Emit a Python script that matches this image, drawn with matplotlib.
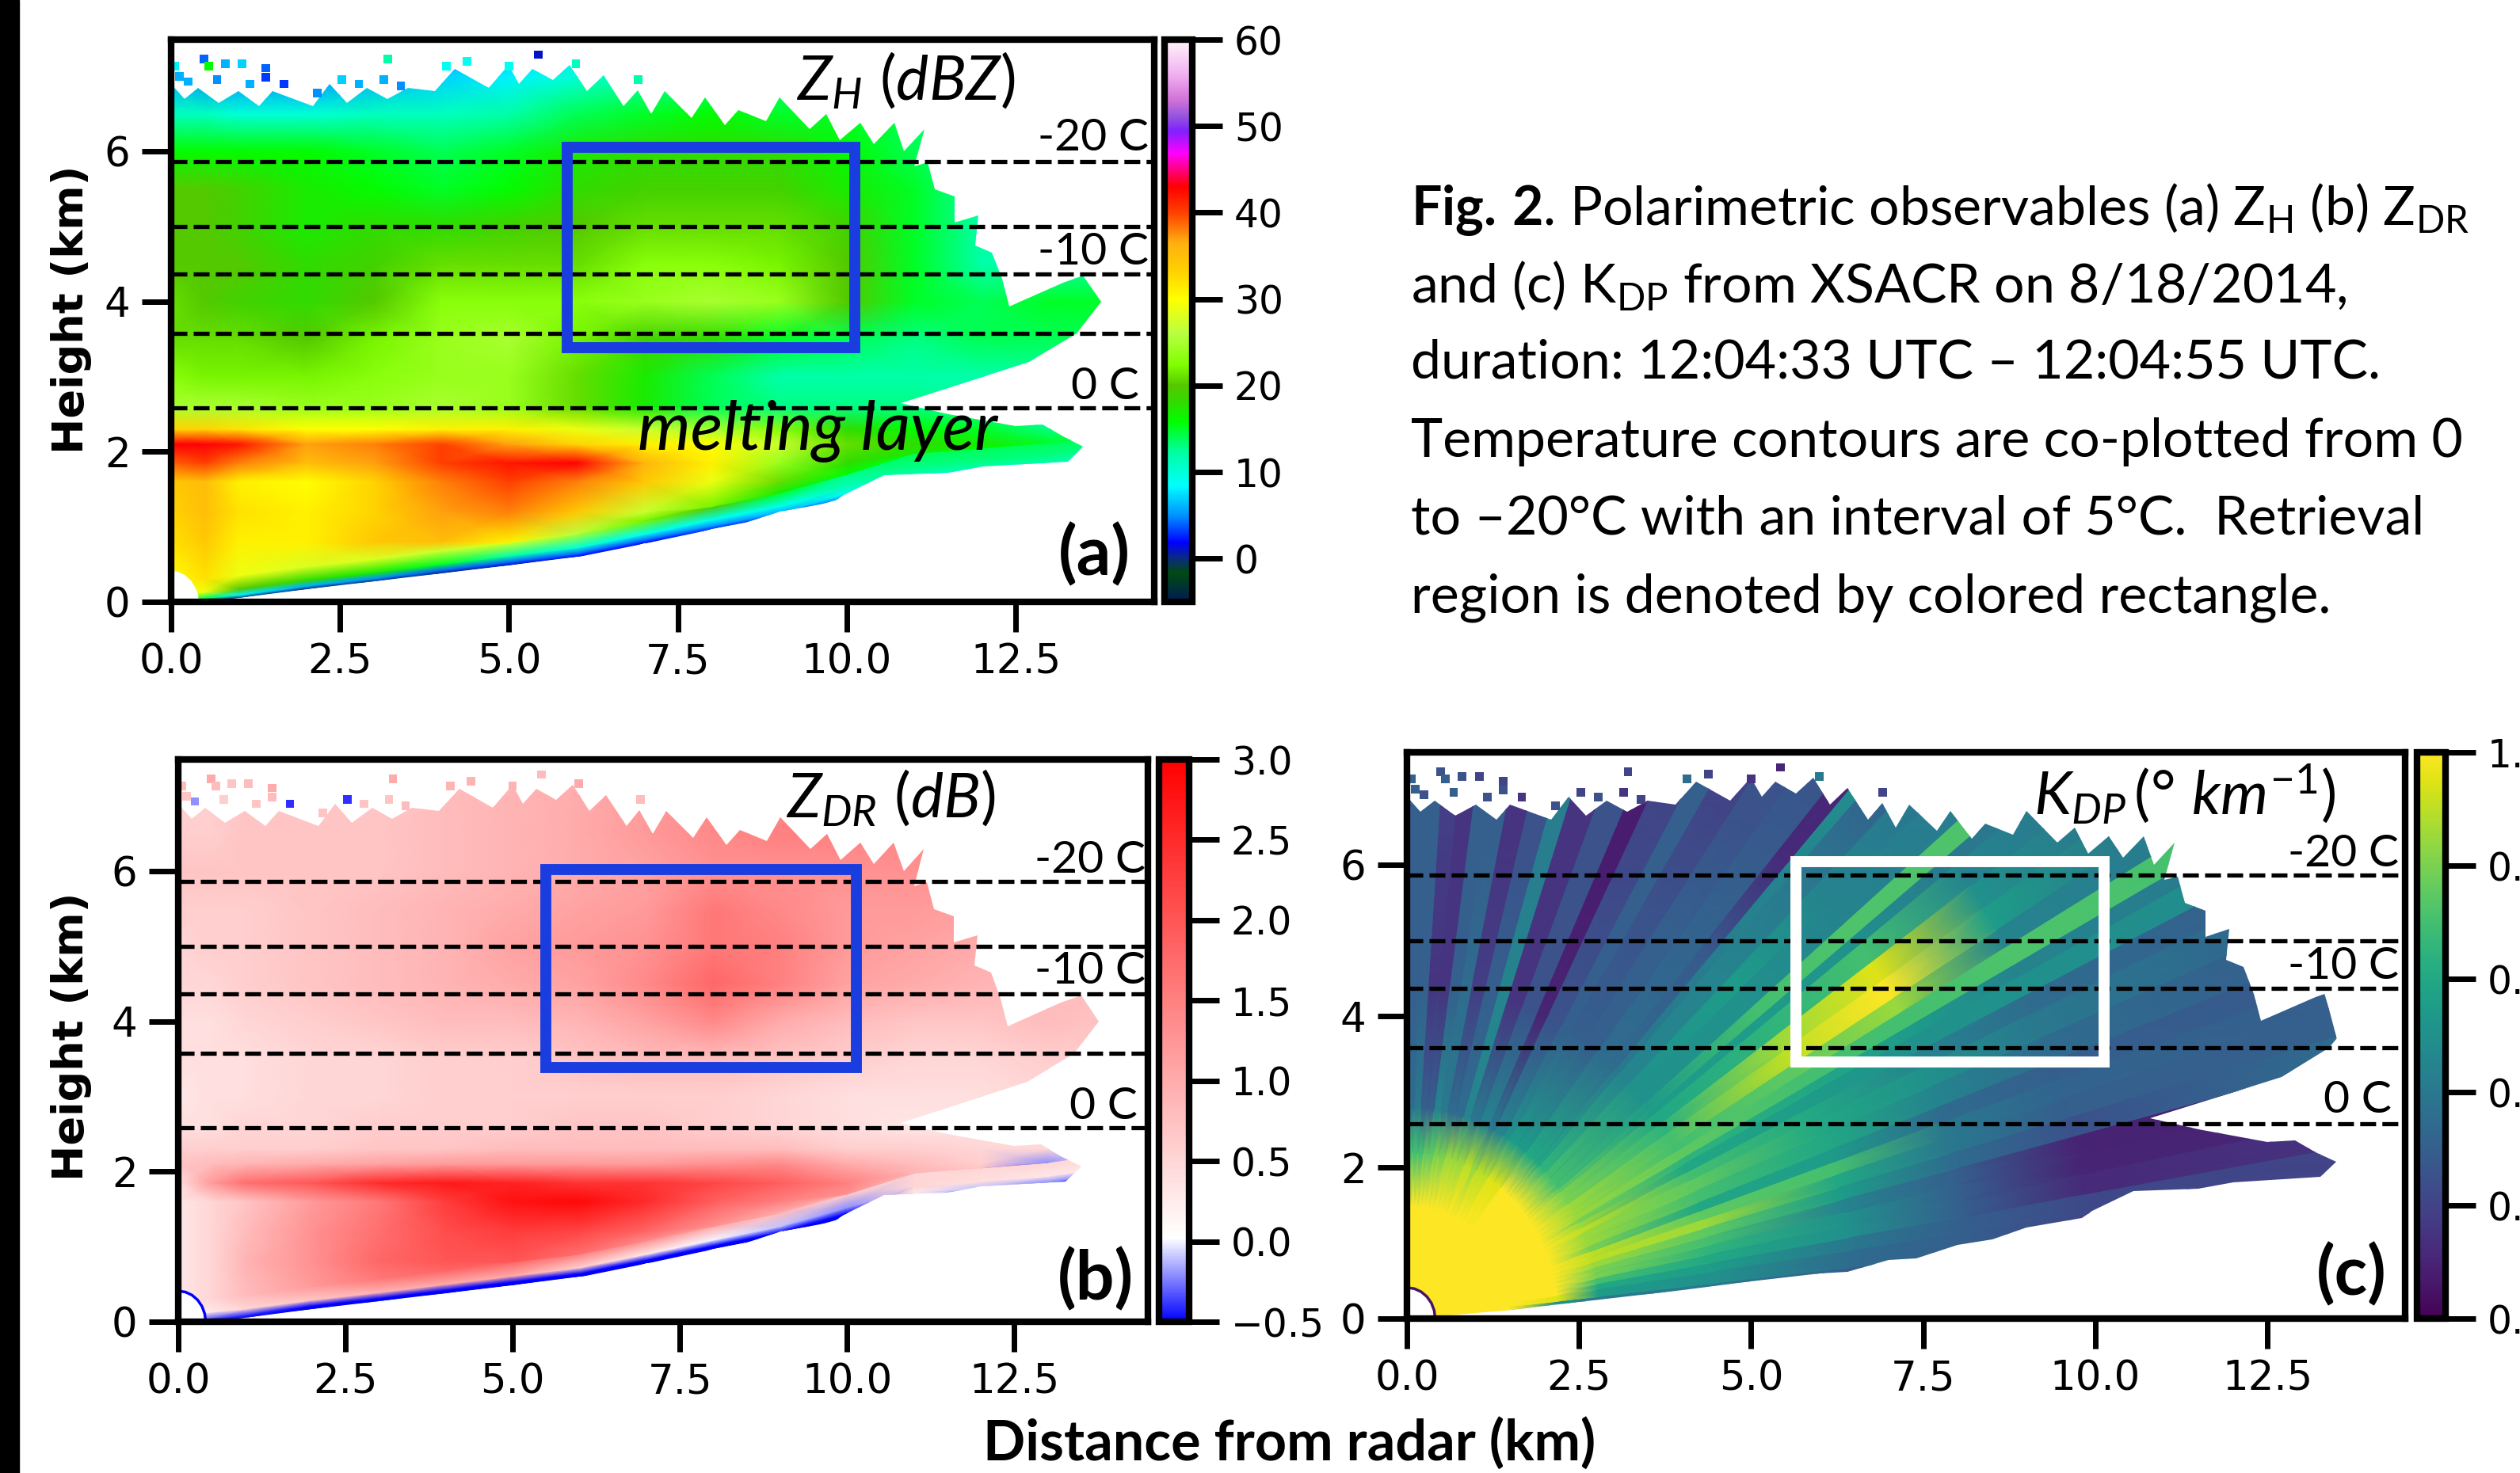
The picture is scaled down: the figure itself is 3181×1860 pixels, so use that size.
import numpy as np
import matplotlib
matplotlib.use('Agg')
import matplotlib.pyplot as plt
from matplotlib.colors import LinearSegmentedColormap, Normalize
from matplotlib.patches import Polygon, Rectangle

W = 3181
H = 1860

# mesh nodes for the reflectivity and zdr fields (km)
x_nodes = [0, 0.5, 1, 2, 3, 4, 5, 6, 7, 8, 9, 10, 11, 12, 13, 14]
low_edge = [0, 0.01, 0.05, 0.17, 0.27, 0.38, 0.49, 0.6, 0.78, 0.97, 1.15, 1.4, 1.68, 1.75, 1.82, 1.95]
edge_offsets = [0, 0.04, 0.12, 0.3]
y_nodes = [0.8, 1.2, 1.6, 1.85, 2.1, 2.3, 2.6, 3, 3.5, 4, 4.5, 5, 5.5, 6, 6.5, 7, 7.4]

zh_values = [
    [30, 0, 0, 0, 0, 0, 1, 2, 2, 3, 3, 6, 11, 11, 11, 11],
    [30, 14, 8, 6, 5, 4, 4, 4, 4, 5, 6, 9, 12, 12, 12, 12],
    [30, 29, 20, 18, 17, 15, 12, 10, 9, 9, 9, 11, 13, 13, 13, 13],
    [30, 32, 29, 28, 28, 27, 28, 25, 22, 20, 15, 13, 14, 14, 14, 14],
    [32, 34, 31, 31, 34, 35, 31, 26, 22, 20, 16, 14, 14, 14, 14, 14],
    [33, 35, 32, 31, 33, 37, 38, 34, 27, 22, 17, 15, 14, 14, 14, 14],
    [34, 35, 31, 30, 33, 38, 40, 38, 34, 29, 21, 16, 15, 15, 15, 15],
    [39, 40, 38, 35, 37, 40, 42, 43, 36, 31, 24, 18, 17, 16, 15, 15],
    [43, 43, 42, 37, 38, 40, 37, 33, 31, 30, 27, 21, 18, 17, 15, 14],
    [33, 33, 32, 30, 30, 31, 31, 29, 27, 25, 23, 18, 16, 15, 13, 13],
    [25, 25, 25, 24, 24, 25, 24, 21, 17, 14, 13, 13, 13, 12, 12, 12],
    [23, 22, 22, 22, 23, 24, 24, 21, 17, 14, 12, 12, 12, 12, 12, 12],
    [21, 21, 21, 20, 22, 24, 25, 22, 19, 18, 15, 14, 13, 14, 14, 14],
    [21, 20, 19, 18, 20, 23, 23, 23, 24, 25, 24, 20, 15, 14, 15, 15],
    [20, 20, 20, 18, 19, 21, 21, 21, 23, 23, 22, 20, 15, 12, 12, 12],
    [20, 20, 19, 17, 18, 18, 19, 20, 21, 21, 21, 19, 15, 12, 12, 12],
    [20, 20, 19, 17, 16, 15, 16, 18, 19, 19, 19, 17, 15, 12, 12, 12],
    [16, 16, 16, 16, 15, 14, 15, 17, 18, 18, 18, 16, 14, 12, 12, 12],
    [11, 11, 10, 10, 11, 11, 12, 14, 15, 16, 15, 15, 14, 12, 12, 12],
    [6, 5, 5, 5, 6, 7, 8, 10, 12, 13, 13, 13, 12, 12, 12, 12],
    [4, 4, 4, 4, 5, 5, 6, 8, 10, 11, 11, 11, 11, 11, 11, 11],
]

zdr_values = [
    [0, -0.5, -0.5, -0.5, -0.5, -0.5, -0.5, -0.5, -0.5, -0.5, -0.5, -0.5, 0, -0.3, -0.4, -0.4],
    [0, -0.3, -0.4, -0.5, -0.5, -0.5, -0.5, -0.5, -0.5, -0.5, -0.5, -0.5, 0.3, -0.1, -0.2, -0.2],
    [0.2, 0.3, 0.5, 0.7, 0.9, 1.0, 1.0, 0.6, 0.3, 0, -0.1, -0.2, 0.5, 0.4, 0.3, 0.3],
    [0.3, 0.5, 0.8, 1.2, 1.6, 1.8, 1.8, 1.5, 1.3, 1.0, 0.8, 0.6, 0.5, 0.5, 0.5, 0.5],
    [0.3, 0.5, 0.9, 1.3, 1.8, 2.0, 2.0, 1.7, 1.4, 1.1, 0.9, 0.8, 0.7, 0.6, 0.6, 0.6],
    [0.3, 0.5, 0.8, 1.3, 1.7, 2.1, 2.3, 2.2, 1.8, 1.3, 1.0, 0.9, 0.7, 0.7, 0.6, 0.6],
    [0.3, 0.5, 0.7, 1.2, 1.6, 2.3, 2.8, 2.9, 2.5, 1.9, 1.5, 1.3, 0.8, 0.7, 0.6, 0.6],
    [0.4, 1.2, 1.7, 2.0, 2.5, 2.7, 2.6, 2.4, 2.4, 2.2, 1.9, 1.5, 0.9, 0.7, -0.3, 0.4],
    [0.7, 0.8, 0.9, 1.0, 1.1, 1.2, 1.2, 1.2, 1.2, 1.3, 1.4, 1.0, 0.8, 0.6, -0.2, 0.2],
    [0.6, 0.6, 0.6, 0.6, 0.7, 0.7, 0.8, 0.8, 0.8, 0.8, 0.8, 0.6, 0.6, 0.5, 0.5, 0.5],
    [0.4, 0.4, 0.5, 0.5, 0.6, 0.6, 0.6, 0.7, 0.7, 0.6, 0.5, 0.4, 0.3, 0.4, 0.4, 0.4],
    [0.3, 0.4, 0.4, 0.5, 0.5, 0.6, 0.6, 0.6, 0.6, 0.6, 0.5, 0.4, 0.4, 0.4, 0.5, 0.5],
    [0.4, 0.4, 0.4, 0.5, 0.5, 0.6, 0.6, 0.7, 0.8, 0.8, 0.7, 0.6, 0.5, 0.5, 0.6, 0.6],
    [0.4, 0.4, 0.5, 0.6, 0.7, 0.8, 0.8, 0.9, 1.1, 1.4, 1.0, 0.8, 0.7, 0.7, 0.8, 0.7],
    [0.5, 0.5, 0.6, 0.7, 0.8, 0.9, 1.0, 1.1, 1.4, 1.8, 1.5, 1.1, 1.0, 0.9, 0.8, 0.8],
    [0.5, 0.6, 0.6, 0.7, 0.8, 0.9, 1.1, 1.2, 1.3, 1.6, 1.5, 1.2, 1.1, 1.0, 0.9, 0.9],
    [0.6, 0.6, 0.6, 0.7, 0.8, 0.9, 1.0, 1.1, 1.2, 1.6, 1.4, 1.2, 1.2, 1.1, 1.0, 1.0],
    [0.7, 0.7, 0.7, 0.7, 0.7, 0.8, 0.9, 1.0, 1.1, 1.3, 1.3, 1.3, 1.3, 1.3, 1.0, 1.0],
    [0.6, 0.6, 0.7, 0.7, 0.7, 0.8, 0.9, 1.0, 1.2, 1.4, 1.5, 1.5, 1.4, 1.3, 1.0, 1.0],
    [0.6, 0.6, 0.7, 0.7, 0.7, 0.8, 0.9, 1.0, 1.2, 1.4, 1.4, 1.4, 1.4, 1.2, 1.0, 1.0],
    [0.5, 0.5, 0.6, 0.6, 0.6, 0.7, 0.8, 0.9, 1.1, 1.3, 1.3, 1.3, 1.3, 1.1, 1.0, 1.0],
]

# kdp is drawn ray by ray: elevation edges in degrees and range nodes in km
ray_edges = [4.5, 6, 8, 9.5, 11, 12.5, 14, 15.5, 17, 18.5, 20, 22, 24, 25.5, 27, 28, 29.5, 31, 33, 35, 37, 38,
             39.5, 42, 44, 46.5, 47.5, 49, 52, 55, 58, 60, 63, 65, 68, 71, 73, 75.5, 78, 80, 82, 84, 86, 88, 90]
range_nodes = [0.4, 1.5, 2.2, 2.8, 4.5, 6.5, 8.2, 10, 14]
kdp_values = [
    [1, 1, 0.5, 0.4, 0.4, 0.3, 0.3, 0.25, 0.25],
    [1, 1, 0.95, 0.55, 0.5, 0.35, 0.3, 0.2, 0.2],
    [1, 1, 1, 0.6, 0.55, 0.4, 0.3, 0.22, 0.2],
    [1, 1, 1, 0.7, 0.6, 0.5, 0.3, 0.12, 0.15],
    [1, 1, 1, 0.8, 0.65, 0.5, 0.3, 0.1, 0.1],
    [1, 1, 1, 0.8, 0.7, 0.45, 0.3, 0.1, 0.08],
    [1, 1, 1, 0.85, 0.75, 0.55, 0.35, 0.25, 0.35],
    [1, 1, 1, 0.9, 0.85, 0.6, 0.4, 0.3, 0.3],
    [1, 1, 1, 0.9, 0.75, 0.7, 0.4, 0.32, 0.3],
    [1, 1, 1, 0.8, 0.6, 0.55, 0.35, 0.3, 0.28],
    [1, 1, 1, 0.85, 0.7, 0.6, 0.45, 0.35, 0.3],
    [1, 1, 1, 0.85, 0.75, 0.6, 0.5, 0.4, 0.32],
    [1, 1, 1, 0.9, 0.7, 0.6, 0.45, 0.35, 0.3],
    [1, 1, 1, 0.85, 0.6, 0.55, 0.5, 0.5, 0.48],
    [1, 1, 1, 0.8, 0.65, 0.6, 0.55, 0.45, 0.4],
    [1, 1, 1, 0.85, 0.75, 0.7, 0.7, 0.72, 0.7],
    [1, 1, 1, 0.85, 0.7, 0.75, 0.85, 0.45, 0.4],
    [1, 1, 1, 0.85, 0.7, 0.9, 1.0, 0.55, 0.3],
    [1, 1, 1, 0.8, 0.65, 0.85, 0.95, 0.5, 0.3],
    [1, 1, 1, 0.8, 0.6, 0.65, 0.7, 0.45, 0.35],
    [1, 1, 1, 0.75, 0.55, 0.55, 0.5, 0.4, 0.38],
    [1, 1, 1, 0.7, 0.55, 0.7, 0.72, 0.72, 0.72],
    [1, 1, 1, 0.7, 0.5, 0.5, 0.45, 0.42, 0.4],
    [1, 1, 1, 0.7, 0.5, 0.55, 0.45, 0.4, 0.35],
    [1, 1, 1, 0.65, 0.45, 0.45, 0.4, 0.3, 0.28],
    [1, 1, 1, 0.6, 0.4, 0.42, 0.45, 0.5, 0.5],
    [1, 1, 1, 0.6, 0.35, 0.28, 0.12, 0.1, 0.1],
    [1, 1, 1, 0.6, 0.35, 0.32, 0.28, 0.25, 0.25],
    [1, 1, 0.95, 0.55, 0.3, 0.3, 0.25, 0.25, 0.25],
    [1, 1, 0.95, 0.55, 0.3, 0.25, 0.2, 0.2, 0.2],
    [1, 1, 0.9, 0.5, 0.3, 0.3, 0.3, 0.3, 0.3],
    [1, 1, 0.9, 0.45, 0.25, 0.22, 0.2, 0.2, 0.2],
    [1, 1, 0.85, 0.4, 0.1, 0.08, 0.08, 0.08, 0.08],
    [1, 1, 0.9, 0.45, 0.25, 0.25, 0.25, 0.25, 0.25],
    [1, 1, 0.85, 0.4, 0.15, 0.15, 0.15, 0.15, 0.15],
    [1, 1, 0.85, 0.45, 0.45, 0.42, 0.42, 0.42, 0.42],
    [1, 1, 0.85, 0.35, 0.3, 0.25, 0.25, 0.25, 0.25],
    [1, 1, 0.8, 0.35, 0.18, 0.15, 0.15, 0.15, 0.15],
    [1, 1, 0.8, 0.4, 0.35, 0.3, 0.3, 0.3, 0.3],
    [1, 1, 0.75, 0.45, 0.3, 0.3, 0.3, 0.3, 0.3],
    [1, 1, 0.75, 0.3, 0.15, 0.15, 0.15, 0.15, 0.15],
    [1, 1, 0.7, 0.3, 0.15, 0.18, 0.18, 0.18, 0.18],
    [1, 1, 0.7, 0.4, 0.3, 0.3, 0.3, 0.3, 0.3],
    [1, 1, 0.7, 0.35, 0.3, 0.3, 0.3, 0.3, 0.3],
]

# edge of the echo
outline_x = [0.4, 1, 2, 3, 4, 5, 6, 6.4, 7, 7.4, 8, 8.5, 9, 9.8, 9.95, 10.55, 11.5, 12, 13.27, 13.5, 13.2, 12.9, 12.5,
             11.5, 10.8, 11.5, 12.7, 13.4, 13.77, 13.5, 13.2, 12.4, 12.3, 12.15, 11.9, 11.95, 11.6, 11.6, 11.3, 11.2,
             11.0, 11.15, 10.85, 10.7, 10.4, 10.2, 9.9, 9.7, 9.45, 9.0, 8.8, 8.4, 8.2, 7.9, 7.7, 7.3, 7.1, 6.9, 6.7,
             6.4, 6.15, 5.9, 5.65, 5.35, 5.15, 5.0, 4.7, 4.2, 3.9, 3.5, 3.2, 2.9, 2.6, 2.35, 2.1, 1.5, 1.3, 1.0, 0.7,
             0.4, 0.2, 0]
outline_y = [0, 0.05, 0.17, 0.27, 0.38, 0.49, 0.6, 0.62, 0.78, 0.8, 0.97, 1.05, 1.2, 1.33, 1.42, 1.69, 1.72, 1.8, 1.87,
             2.07, 2.2, 2.36, 2.34, 2.5, 2.65, 2.85, 3.2, 3.58, 4.0, 4.35, 4.25, 3.94, 4.3, 4.65, 4.75, 5.15, 5.05,
             5.4, 5.5, 5.85, 5.8, 6.3, 6.0, 6.38, 6.1, 6.38, 6.15, 6.5, 6.3, 6.72, 6.4, 6.55, 6.35, 6.72, 6.45, 6.8,
             6.5, 6.82, 6.6, 7.02, 6.8, 7.15, 6.95, 7.1, 6.9, 7.15, 6.85, 7.1, 6.8, 6.85, 6.7, 6.85, 6.65, 6.9, 6.6,
             6.8, 6.6, 6.8, 6.65, 6.85, 6.7, 6.9]
inner_radius = 0.41

# isolated gates above the solid echo
speck_x = [0.49, 0.56, 0.8, 1.05, 1.4, 1.4, 1.67, 1.17, 0.68, 0.25, 0.06, 0.12, 2.16, 2.53, 2.78, 3.21, 3.15, 3.4, 4.07,
           4.38, 5.0, 5.43, 5.99, 6.91]
speck_y = [7.23, 7.14, 7.17, 7.17, 7.11, 6.99, 6.9, 6.9, 6.96, 6.93, 7.14, 7.0, 6.78, 6.96, 6.9, 7.23, 6.96, 6.87, 7.14,
           7.2, 7.14, 7.29, 7.17, 6.96]
speck_zh = [4, 16, 6, 7, 4, 3, 3, 6, 5, 6, 8, 6, 5, 7, 6, 12, 6, 5, 9, 9, 9, 1, 11, 12]
speck_zdr = [1.0, 0.8, 0.7, 0.8, 1.0, 0.8, -0.4, 0.7, 0.6, -0.2, 0.8, 0.7, 0.7, -0.4, 0.7, 1.0, 0.7, 0.8, 0.9, 0.9, 0.9,
             0.8, 1.0, 0.8]
speck_kdp = [0.25, 0.3, 0.25, 0.2, 0.2, 0.25, 0.15, 0.25, 0.3, 0.25, 0.3, 0.3, 0.25, 0.2, 0.25, 0.2, 0.15, 0.2, 0.35,
             0.2, 0.15, 0.1, 0.4, 0.2]

temp_heights = [5.87, 5.0, 4.37, 3.58, 2.58]
temp_labels = ['-20 C', '-10 C', '0 C']

x_ticks = [0, 2.5, 5, 7.5, 10, 12.5]
x_labels = ['0.0', '2.5', '5.0', '7.5', '10.0', '12.5']
y_ticks = [0, 2, 4, 6]

zh_ticks = [0, 10, 20, 30, 40, 50, 60]
zdr_ticks = [-0.5, 0, 0.5, 1, 1.5, 2, 2.5, 3]
kdp_ticks = [0, 0.2, 0.4, 0.6, 0.8, 1.0]

# retrieval boxes (x0, x1, y0, y1) in km
box_a = [5.86, 10.12, 3.39, 6.06]
box_b = [5.5, 10.14, 3.39, 6.02]
box_c = [5.65, 10.13, 3.39, 6.04]

caption_lines = [
    r'$\mathbf{Fig.\,2}$. Polarimetric observables (a) Z$_{\mathrm{H}}$ (b) Z$_{\mathrm{DR}}$',
    r'and (c) K$_{\mathrm{DP}}$ from XSACR on 8/18/2014,',
    'duration: 12:04:33 UTC – 12:04:55 UTC.',
    'Temperature contours are co-plotted from 0',
    'to –20°C with an interval of 5°C.  Retrieval',
    'region is denoted by colored rectangle.',
]
caption_y = [264, 361, 458, 558, 655, 755]

zh_stops = [(-5, '#001a55'), (-1.7, '#004a10'), (0, '#0a2a80'), (1.8, '#0000ff'), (4.9, '#0090ff'), (8.4, '#00ffff'),
            (12.3, '#00ffa0'), (15.8, '#00ff00'), (18, '#30dc00'), (20, '#55c800'), (22.4, '#80ff00'), (26, '#b8ff40'),
            (30, '#ffff00'), (33.3, '#ffd000'), (36.5, '#ffb010'), (40, '#ff4000'), (43, '#ff0000'), (45, '#ff0080'),
            (46.9, '#ff00ff'), (49.5, '#8020ff'), (51, '#9050e0'), (53, '#d070d8'), (56, '#f0b0f0'), (60, '#fff4fb')]
zdr_stops = [(-0.5, '#0000ff'), (0.02, '#ffffff'), (3, '#ff0000')]

plt.rcParams['font.family'] = 'DejaVu Sans'
plt.rcParams['mathtext.fontset'] = 'custom'
plt.rcParams['mathtext.rm'] = 'Lato'
plt.rcParams['mathtext.it'] = 'Lato:italic'
plt.rcParams['mathtext.bf'] = 'Lato:bold'


def make_cmap(stops):
    lo = stops[0][0]
    hi = stops[-1][0]
    return LinearSegmentedColormap.from_list('c', [((v - lo) / (hi - lo), c) for v, c in stops], N=512)


def new_axes(fig, left, right, top, bottom):
    return fig.add_axes([left / W, 1 - bottom / H, (right - left) / W, (bottom - top) / H])


def style_axes(ax, xmax):
    ax.set_xlim(0, xmax)
    ax.set_ylim(0, 7.49)
    ax.set_xticks(x_ticks)
    ax.set_xticklabels(x_labels)
    ax.set_yticks(y_ticks)
    ax.tick_params(length=27, width=5, labelsize=37, pad=10)
    for s in ax.spines.values():
        s.set_linewidth(6)
    for y in temp_heights:
        ax.plot([0, xmax], [y, y], color='k', lw=3.8, ls=(0, (3.8, 1.5)), zorder=4)


def echo_clip(ax):
    t = np.radians([0, 15, 30, 45, 60, 75, 90])
    arc_x = inner_radius * np.sin(t)
    arc_y = inner_radius * np.cos(t)
    xy = np.column_stack([np.r_[arc_x, outline_x], np.r_[arc_y, outline_y]])
    return Polygon(xy, closed=True, transform=ax.transData)


def draw_cartesian(ax, values, cmap, norm):
    X = np.tile(np.array(x_nodes, float), (len(edge_offsets) + len(y_nodes), 1))
    low = np.array(low_edge)
    rows = [low + d for d in edge_offsets]
    for y in y_nodes:
        rows.append(np.maximum(y, low + edge_offsets[-1]))
    Y = np.array(rows)
    m = ax.pcolormesh(X, Y, np.array(values, float), cmap=cmap, norm=norm, shading='gouraud', zorder=1)
    m.set_clip_path(echo_clip(ax))
    return m


def draw_rays(ax, cmap, norm):
    # doubled edges keep each ray flat across its width
    edges = np.radians(np.repeat(ray_edges, 2)[1:-1])
    r = np.array(range_nodes)
    A, R = np.meshgrid(edges, r, indexing='ij')
    C = np.repeat(np.array(kdp_values, float), 2, axis=0)
    m = ax.pcolormesh(R * np.cos(A), R * np.sin(A), C, cmap=cmap, norm=norm, shading='gouraud', zorder=1)
    m.set_clip_path(echo_clip(ax))
    return m


def specks(ax, values, cmap, norm):
    ax.scatter(speck_x, speck_y, c=values, cmap=cmap, norm=norm, marker='s', s=60, linewidths=0, zorder=2)


def colorbar(fig, mesh, left, right, top, bottom, ticks):
    cax = new_axes(fig, left, right, top, bottom)
    cb = fig.colorbar(mesh, cax=cax, ticks=ticks)
    cb.outline.set_linewidth(6)
    cax.tick_params(length=27, width=5, labelsize=35, pad=11)
    return cb


def arc(ax, color):
    t = np.radians([0, 15, 30, 45, 60, 75, 90])
    ax.plot(inner_radius * np.sin(t), inner_radius * np.cos(t), color=color, lw=2.5, zorder=2)


def box(ax, b, color, lw):
    ax.add_patch(Rectangle((b[0], b[2]), b[1] - b[0], b[3] - b[2], fill=False, ec=color, lw=lw, zorder=5,
                           joinstyle='miter'))


def px_text(fig, x, y, s, **kw):
    kw.setdefault('family', 'Lato')
    kw.setdefault('va', 'center')
    fig.text(x / W, 1 - y / H, s, **kw)


fig = plt.figure(figsize=(W / 100, H / 100), dpi=100)
fig.add_artist(Rectangle((0, 0), 24 / W, 1, transform=fig.transFigure, color='k'))

ax_a = new_axes(fig, 216, 1457, 50, 760)
ax_b = new_axes(fig, 225, 1449, 959, 1669)
ax_c = new_axes(fig, 1776, 3036, 950, 1665)

zh_cmap = make_cmap(zh_stops)
zh_norm = Normalize(-5, 60)
zdr_cmap = make_cmap(zdr_stops)
zdr_norm = Normalize(-0.5, 3)
kdp_cmap = plt.get_cmap('viridis')
kdp_norm = Normalize(0, 1)

mesh_a = draw_cartesian(ax_a, zh_values, zh_cmap, zh_norm)
mesh_b = draw_cartesian(ax_b, zdr_values, zdr_cmap, zdr_norm)
mesh_c = draw_rays(ax_c, kdp_cmap, kdp_norm)
specks(ax_a, speck_zh, zh_cmap, zh_norm)
specks(ax_b, speck_zdr, zdr_cmap, zdr_norm)
specks(ax_c, speck_kdp, kdp_cmap, kdp_norm)
arc(ax_b, '#0000ff')
arc(ax_c, kdp_cmap(0.05))

style_axes(ax_a, 14.55)
style_axes(ax_b, 14.5)
style_axes(ax_c, 14.5)

colorbar(fig, mesh_a, 1470, 1505, 50, 760, zh_ticks)
colorbar(fig, mesh_b, 1463, 1501, 959, 1669, zdr_ticks)
colorbar(fig, mesh_c, 3051, 3087, 950, 1665, kdp_ticks)

box(ax_a, box_a, '#1a3de0', 10)
box(ax_b, box_b, '#1a3de0', 10)
box(ax_c, box_c, 'white', 10)

fig.text(90 / W, 1 - 391 / H, 'Height (km)', rotation=90, ha='center', va='center', fontsize=39, fontweight='bold')
fig.text(90 / W, 1 - 1309 / H, 'Height (km)', rotation=90, ha='center', va='center', fontsize=39, fontweight='bold')
px_text(fig, 1241, 1822, 'Distance from radar (km)', fontsize=50.5, fontweight='bold')

px_text(fig, 1005, 126, r'$Z_H\ (dBZ)$', fontsize=56, va='baseline')
px_text(fig, 992, 1032, r'$Z_{DR}\ (dB)$', fontsize=56, va='baseline')
px_text(fig, 2567, 1028, r'$K_{DP}\,(°\ km^{-1})$', fontsize=55, va='baseline')

for x, ys in [(1310, (174, 318)), (1306, (1087, 1227)), (2888, (1078, 1220))]:
    px_text(fig, x, ys[0], temp_labels[0], fontsize=41)
    px_text(fig, x, ys[1], temp_labels[1], fontsize=41)
px_text(fig, 1352, 488, temp_labels[2], fontsize=41)
px_text(fig, 1350, 1397, temp_labels[2], fontsize=41)
px_text(fig, 2933, 1389, temp_labels[2], fontsize=41)

px_text(fig, 805, 544, 'melting layer', fontsize=61, style='italic')
px_text(fig, 1336, 701, '(a)', fontsize=62, fontweight='bold')
px_text(fig, 1335, 1616, '(b)', fontsize=62, fontweight='bold')
px_text(fig, 2924, 1610, '(c)', fontsize=62, fontweight='bold')

for s, y in zip(caption_lines, caption_y):
    px_text(fig, 1781, y, s, fontsize=49)

fig.savefig('out.png', dpi=100)
